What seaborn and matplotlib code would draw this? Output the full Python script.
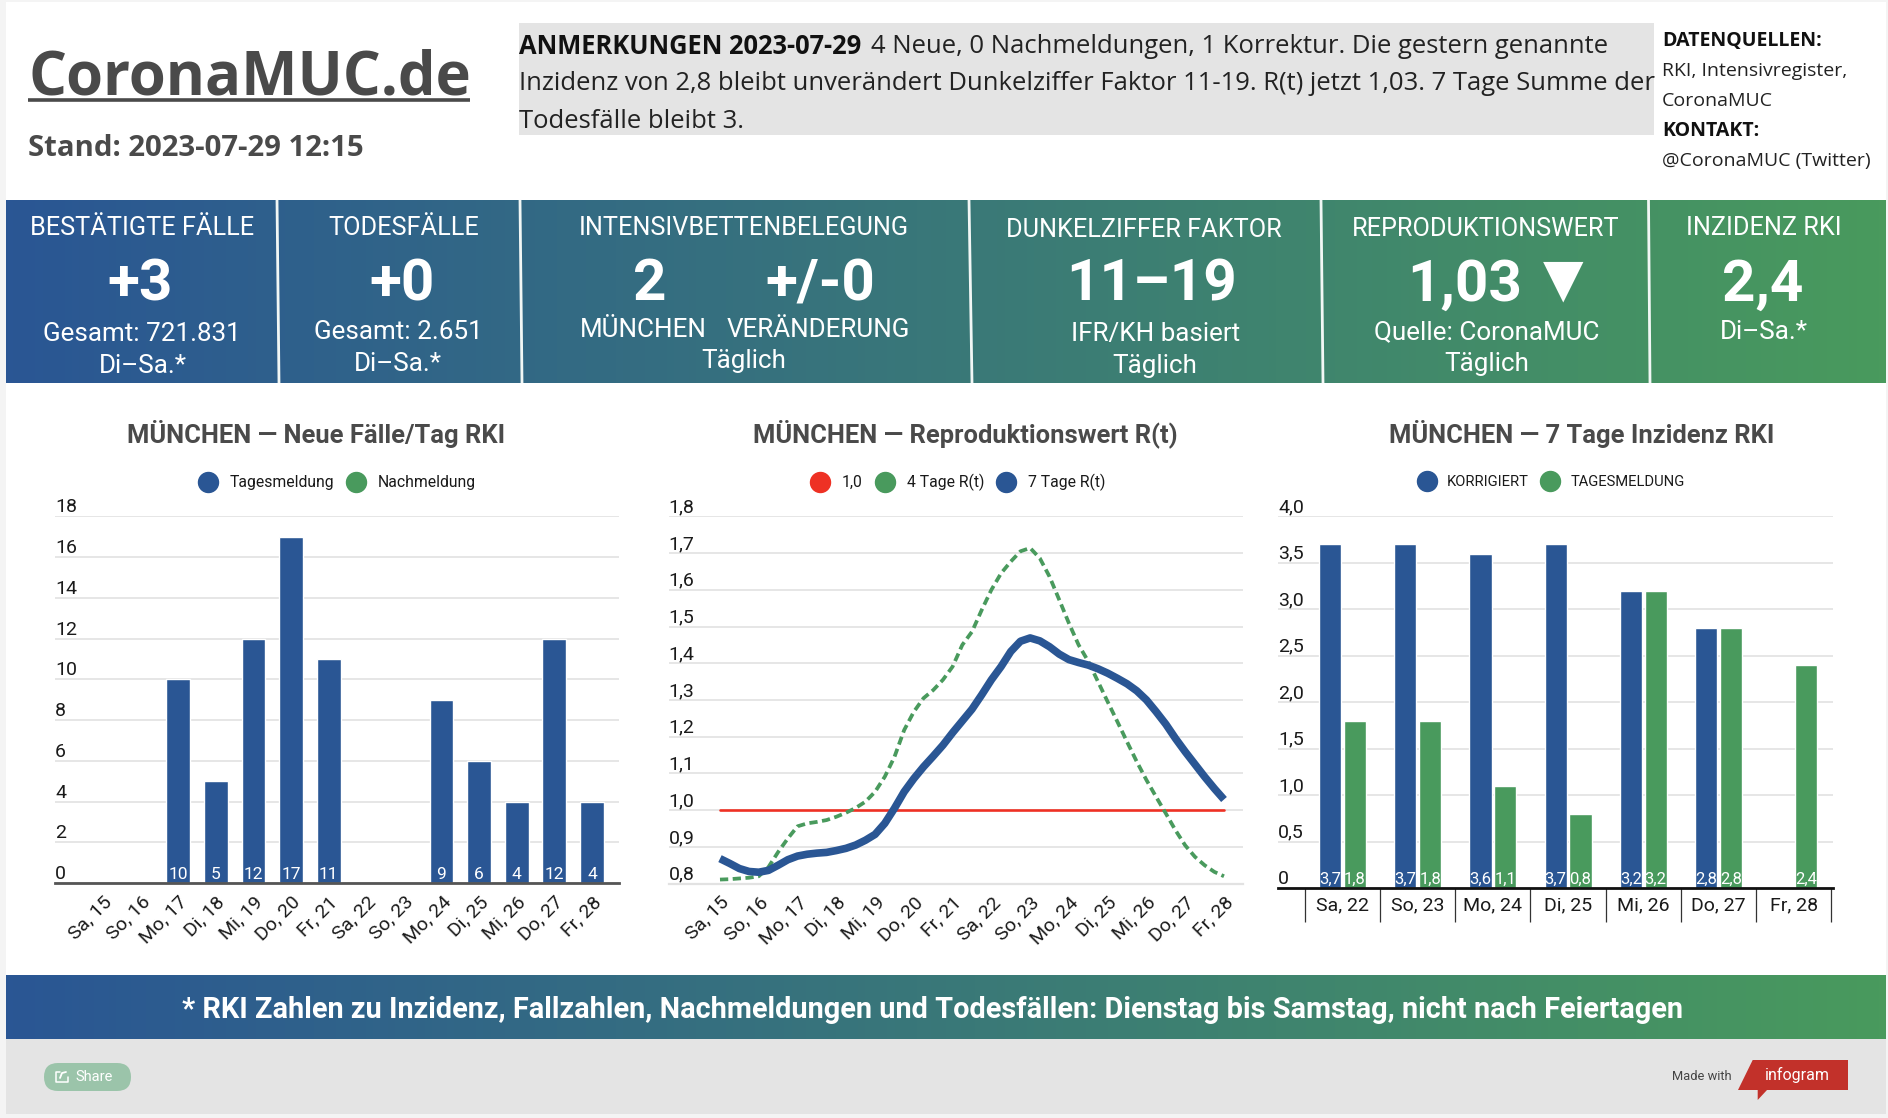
import numpy as np
import pandas as pd
import seaborn as sns
import matplotlib.pyplot as plt
from matplotlib.colors import LinearSegmentedColormap
from matplotlib.lines import Line2D
from matplotlib.patches import Rectangle, FancyBboxPatch, Polygon

W, H = 1888, 1118
BLUE = "#2a5694"
GREEN = "#499a5d"
RED = "#ee3124"
GREY = "#e4e4e4"
HEAD = "#4a4a4a"
GRID = "#e2e2e2"
INK = "#1a1a1a"

# chart values
days = ["Sa, 15", "So, 16", "Mo, 17", "Di, 18", "Mi, 19", "Do, 20", "Fr, 21",
        "Sa, 22", "So, 23", "Mo, 24", "Di, 25", "Mi, 26", "Do, 27", "Fr, 28"]
cases = [np.nan, np.nan, 10, 5, 12, 17, 11, np.nan, np.nan, 9, 6, 4, 12, 4]
case_ticks = list(range(0, 19, 2))

rt_pos = [i / 4 for i in range(53)]
rt7 = [0.868, 0.855, 0.841, 0.833, 0.831, 0.836, 0.850, 0.865, 0.875, 0.880, 0.883, 0.885, 0.890,
       0.896, 0.905, 0.918, 0.934, 0.964, 1.005, 1.050, 1.086, 1.118, 1.147, 1.177, 1.211, 1.243,
       1.275, 1.314, 1.355, 1.391, 1.432, 1.460, 1.469, 1.461, 1.445, 1.425, 1.410, 1.402, 1.395,
       1.385, 1.373, 1.359, 1.344, 1.325, 1.300, 1.268, 1.234, 1.195, 1.159, 1.125, 1.091, 1.059, 1.029]
rt4 = [0.811, 0.812, 0.814, 0.816, 0.820, 0.845, 0.886, 0.923, 0.956, 0.964, 0.968, 0.973, 0.982,
       0.993, 1.006, 1.023, 1.050, 1.091, 1.145, 1.218, 1.268, 1.305, 1.327, 1.355, 1.391, 1.450,
       1.486, 1.545, 1.600, 1.645, 1.677, 1.705, 1.714, 1.686, 1.636, 1.573, 1.509, 1.450, 1.405,
       1.350, 1.295, 1.241, 1.186, 1.132, 1.082, 1.036, 0.991, 0.945, 0.904, 0.873, 0.850, 0.832, 0.820]
rt_one = [1.0] * 14
rt_ticks = [0.8, 0.9, 1.0, 1.1, 1.2, 1.3, 1.4, 1.5, 1.6, 1.7, 1.8]
rt_labels = ["0,8", "0,9", "1,0", "1,1", "1,2", "1,3", "1,4", "1,5", "1,6", "1,7", "1,8"]

inc_days = ["Sa, 22", "So, 23", "Mo, 24", "Di, 25", "Mi, 26", "Do, 27", "Fr, 28"]
inc_fixed = [3.7, 3.7, 3.6, 3.7, 3.2, 2.8, np.nan]
inc_daily = [1.8, 1.8, 1.1, 0.8, 3.2, 2.8, 2.4]
inc_ticks = [0, 0.5, 1, 1.5, 2, 2.5, 3, 3.5, 4]
inc_labels = ["0", "0,5", "1,0", "1,5", "2,0", "2,5", "3,0", "3,5", "4,0"]

sns.set_theme(style="white")
plt.rcParams["font.family"] = ["Roboto", "DejaVu Sans"]
fig = plt.figure(figsize=(W / 100, H / 100), dpi=100, facecolor="#f4f4f4")

# page layer in pixel coordinates
bg = fig.add_axes([0, 0, 1, 1], zorder=0)
bg.axis("off")
bg.add_patch(Rectangle((6, 2), 1880, 1037, color="white", lw=0, zorder=0))
bg.add_patch(Rectangle((6, 1039), 1880, 75, color=GREY, lw=0, zorder=0))
bg.add_patch(Rectangle((519, 23), 1135, 112, color=GREY, lw=0, zorder=0))

cmap = LinearSegmentedColormap.from_list("band", [BLUE, GREEN])
grad = np.linspace(0, 1, 512)[None, :]
bg.imshow(grad, cmap=cmap, extent=(6, 1886, 383, 200), aspect="auto", zorder=1)
bg.imshow(grad, cmap=cmap, extent=(6, 1886, 1039, 975), aspect="auto", zorder=1)
bg.set_xlim(0, W)
bg.set_ylim(H, 0)
for top, bot in [(277, 279), (520, 522), (969, 972), (1321, 1323), (1648.5, 1650)]:
    bg.plot([top, bot], [200, 383], color="#f2f7f5", lw=2.0, solid_capstyle="butt", zorder=2)


def txt(x, y, s, size, color="white", weight="normal", ha="center", family=None):
    return bg.text(x, y, s, fontsize=size, color=color, fontweight=weight, ha=ha, va="center",
                   family=family or ["Roboto", "DejaVu Sans"], zorder=3)


OS = ["Open Sans", "DejaVu Sans"]
txt(28, 79, "CoronaMUC.de", 43, HEAD, "bold", "left", OS)
bg.plot([28, 470], [100, 100], color=HEAD, lw=2.6, solid_capstyle="butt", zorder=3)
txt(28, 148.5, "Stand: 2023-07-29 12:15", 21.15, HEAD, "bold", "left", OS)

txt(519, 46.5, "ANMERKUNGEN 2023-07-29", 18.4, "#111111", "bold", "left", OS)
txt(871, 46.5, "4 Neue, 0 Nachmeldungen, 1 Korrektur. Die gestern genannte", 18.48, "#222222", "normal", "left", OS)
txt(519, 84, "Inzidenz von 2,8 bleibt unverändert Dunkelziffer Faktor 11-19. R(t) jetzt 1,03. 7 Tage Summe der",
    18.48, "#222222", "normal", "left", OS)
txt(519, 121, "Todesfälle bleibt 3.", 18.48, "#222222", "normal", "left", OS)

txt(1662, 41, "DATENQUELLEN:", 14, "#111111", "bold", "left", OS)
txt(1662, 71, "RKI, Intensivregister,", 14, "#222222", "normal", "left", OS)
txt(1662, 101, "CoronaMUC", 14, "#222222", "normal", "left", OS)
txt(1662, 131, "KONTAKT:", 14, "#111111", "bold", "left", OS)
txt(1662, 161, "@CoronaMUC (Twitter)", 14, "#222222", "normal", "left", OS)

# tiles
HEADS = 18.2
BIG = 42
SUB = 18.7
txt(142, 228, "BESTÄTIGTE FÄLLE", HEADS)
txt(140, 285, "+3", BIG, weight="bold")
txt(142, 334, "Gesamt: 721.831", SUB)
txt(143, 366, "Di–Sa.*", SUB)

txt(404, 228, "TODESFÄLLE", HEADS)
txt(402, 285, "+0", BIG, weight="bold")
txt(398, 332, "Gesamt: 2.651", SUB)
txt(398, 364, "Di–Sa.*", SUB)

txt(744, 228, "INTENSIVBETTENBELEGUNG", HEADS)
txt(650, 285, "2", BIG, weight="bold")
txt(820, 285, "+/-0", BIG, weight="bold")
txt(643, 330, "MÜNCHEN", SUB)
txt(818, 330, "VERÄNDERUNG", SUB)
txt(744, 361, "Täglich", SUB)

txt(1144, 230, "DUNKELZIFFER FAKTOR", HEADS)
txt(1152, 285, "11–19", BIG, weight="bold")
txt(1156, 334, "IFR/KH basiert", SUB)
txt(1155, 366, "Täglich", SUB)

txt(1486, 229, "REPRODUKTIONSWERT", HEADS)
txt(1465, 285, "1,03", BIG, weight="bold")
txt(1563, 280, "▼", 38, family=["DejaVu Sans"])
txt(1487, 332, "Quelle: CoronaMUC", SUB)
txt(1487, 364, "Täglich", SUB)

txt(1764, 228, "INZIDENZ RKI", HEADS)
txt(1763, 285, "2,4", BIG, weight="bold")
txt(1764, 332, "Di–Sa.*", SUB)

txt(933, 1010.5, "* RKI Zahlen zu Inzidenz, Fallzahlen, Nachmeldungen und Todesfällen: Dienstag bis Samstag, nicht nach Feiertagen",
    20.8, weight="bold")

# footer
bg.add_patch(FancyBboxPatch((44, 1063), 87, 28, boxstyle="round,pad=0,rounding_size=14", color="#9bc4aa", lw=0, zorder=1))
bg.plot([60, 56, 56, 68, 68], [1072, 1072, 1082, 1082, 1077], color="white", lw=1.1, zorder=3)
bg.plot([60, 62, 66], [1078, 1073, 1072], color="white", lw=1.3, zorder=3)
txt(94, 1077, "Share", 10.5, "white")
txt(1702, 1076, "Made with", 9.3, "#444444")
bg.add_patch(Polygon([(1752.7, 1060), (1848, 1060), (1848, 1090), (1767, 1090), (1757.7, 1100), (1757.7, 1090), (1738, 1090)],
                     color="#c2312a", lw=0, zorder=1))
txt(1797, 1075, "infogram", 11.5, "white")


def chart_axes(l, t, r, b):
    ax = fig.add_axes([l / W, 1 - b / H, (r - l) / W, (b - t) / H], zorder=1)
    ax.patch.set_alpha(0)
    return ax


def style_y(ax, ticks, labels, size=14):
    ax.set_yticks(ticks, labels)
    ax.set_ylim(ticks[0], ticks[-1])
    ax.grid(axis="y", color=GRID, lw=1.2)
    ax.grid(axis="x", visible=False)
    ax.set_axisbelow(True)
    ax.tick_params(axis="y", length=0, pad=0, labelsize=size, labelcolor=INK)
    for lab in ax.get_yticklabels():
        lab.set_ha("left")
        lab.set_va("bottom")
    for side in ["top", "left", "right"]:
        ax.spines[side].set_visible(False)
    ax.set_xlabel("")
    ax.set_ylabel("")


def slanted_x(ax, labels):
    ax.set_xticks(range(len(labels)), labels)
    ax.tick_params(axis="x", length=0, pad=7, labelsize=14, labelcolor=INK)
    for lab in ax.get_xticklabels():
        lab.set_rotation(45)
        lab.set_ha("right")
        lab.set_va("top")
        lab.set_rotation_mode("anchor")


def dot_legend(ax, names, colors, cx, size=11.3):
    handles = [Line2D([], [], ls="", marker="o", ms=14.4, mfc=c, mec=c) for c in colors]
    ax.legend(handles, names, ncol=len(names), loc="center", bbox_to_anchor=(cx / W, 1 - 482.5 / H),
              bbox_transform=fig.transFigure, frameon=False, fontsize=size, handlelength=1.25,
              handletextpad=0.75, columnspacing=0.8, labelcolor=INK)


# left chart
ax1 = chart_axes(55, 516.4, 619, 883)
sns.barplot(x=days, y=cases, order=days, color=BLUE, saturation=1, width=0.63, ax=ax1)
style_y(ax1, case_ticks, [str(t) for t in case_ticks])
slanted_x(ax1, days)
ax1.set_xlim(-1.277, 13.72)
ax1.spines["bottom"].set_color("#555555")
ax1.spines["bottom"].set_linewidth(2)
for i, v in enumerate(cases):
    if not np.isnan(v):
        ax1.annotate(str(int(v)), (i, 0), xytext=(0, 1), textcoords="offset points", ha="center", va="bottom",
                     color="white", fontsize=12.5)
dot_legend(ax1, ["Tagesmeldung", "Nachmeldung"], [BLUE, GREEN], 337)
txt(316, 434, "MÜNCHEN — Neue Fälle/Tag RKI", 18.4, HEAD, "bold")

# middle chart
ax2 = chart_axes(668.5, 516.4, 1243, 883.6)
sns.lineplot(x=list(range(14)), y=rt_one, color=RED, lw=1.9, ax=ax2, errorbar=None)
sns.lineplot(x=rt_pos, y=rt4, color=GREEN, lw=2.7, ax=ax2, errorbar=None, linestyle=(0, (2.2, 1.2)))
sns.lineplot(x=rt_pos, y=rt7, color=BLUE, lw=5.5, ax=ax2, errorbar=None, solid_joinstyle="round", solid_capstyle="butt")
style_y(ax2, rt_ticks, rt_labels)
slanted_x(ax2, days)
ax2.set_xlim(-1.328, 13.49)
ax2.spines["bottom"].set_color(GRID)
ax2.spines["bottom"].set_linewidth(1.6)
dot_legend(ax2, ["1,0", "4 Tage R(t)", "7 Tage R(t)"], [RED, GREEN, BLUE], 958)
txt(965, 434, "MÜNCHEN — Reproduktionswert R(t)", 18.4, HEAD, "bold")

# right chart
inc = pd.DataFrame({"tag": inc_days, "KORRIGIERT": inc_fixed, "TAGESMELDUNG": inc_daily})
inc = inc.melt(id_vars="tag", var_name="art", value_name="wert")
ax3 = chart_axes(1278, 516.4, 1833, 888)
sns.barplot(data=inc, x="tag", y="wert", hue="art", order=inc_days, hue_order=["KORRIGIERT", "TAGESMELDUNG"],
            palette=[BLUE, GREEN], saturation=1, width=0.66, gap=0.11, legend=False, ax=ax3)
style_y(ax3, inc_ticks, inc_labels)
ax3.set_xticks(range(7), inc_days)
ax3.set_xticks(np.arange(-0.5, 7), minor=True)
ax3.tick_params(axis="x", which="major", length=0, pad=6, labelsize=14, labelcolor=INK)
ax3.tick_params(axis="x", which="minor", length=24.5, width=0.9, color="#333333", bottom=True)
ax3.set_xlim(-0.858, 6.523)
ax3.spines["bottom"].set_color("#111111")
ax3.spines["bottom"].set_linewidth(2)
for i, (a, b) in enumerate(zip(inc_fixed, inc_daily)):
    for v, off in [(a, -0.165), (b, 0.165)]:
        if not np.isnan(v):
            ax3.annotate(f"{v:.1f}".replace(".", ","), (i + off, 0), xytext=(0, 1), textcoords="offset points",
                         ha="center", va="bottom", color="white", fontsize=12)
dot_legend(ax3, ["KORRIGIERT", "TAGESMELDUNG"], [BLUE, GREEN], 1551, size=10.6)
txt(1582, 434, "MÜNCHEN — 7 Tage Inzidenz RKI", 18.4, HEAD, "bold")

fig.savefig("out.png", dpi=100, facecolor=fig.get_facecolor())
